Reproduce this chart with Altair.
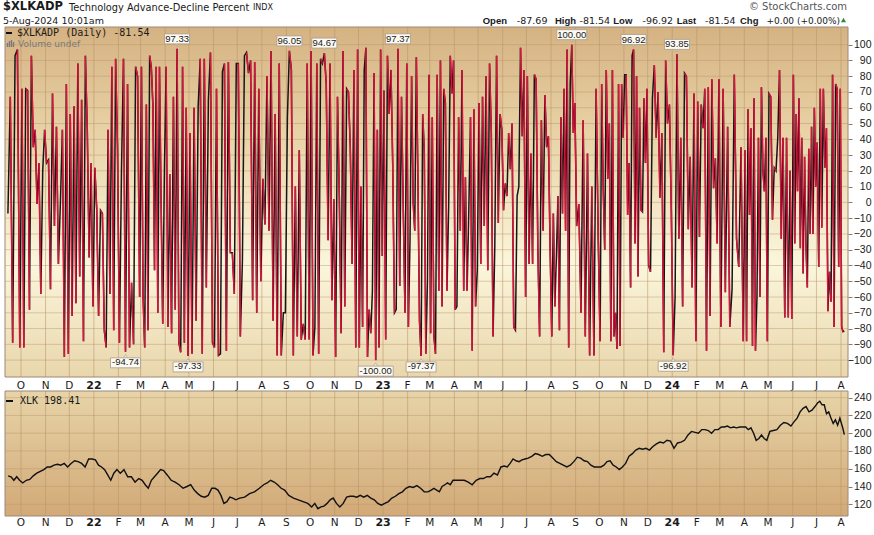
import altair as alt
import pandas as pd

# ---------------- data ----------------
# $XLKADP daily values, grouped by month (Sep 2021 .. Aug 2024)
ADP_2021 = [
    [-7, 67, -89, 93, 97, -92],
    [72, -92, 72, 71, -68, 93, 35, 46, -1, 25, -58, 20, 46],
    [25, 27, -55, 69, -15, 48, -39, 0, 46, -98, 75, -96],
    [56, -72, 61, -64, 88, -47, 65, -88, 93, 46, -35, 25, -66],
]
ADP_2022 = [
    [22, -4, -72, -5, -7, -81, -92, 46, -58, 86, -81, 91, 35],
    [-89, 20, 91, -94.74, 75, -92, -51, -90, 86, 80, -60],
    [86, -60, -92, 62, -81, 93, 86, 62, -43, 86, -70, 86, 0, -77, 18],
    [86, -79, 18, -83, 67, -68, 97.33, -89, -95, 86, -89, 60, -97.33],
    [44, -96, 60, -75, 61, 91, -96, 91, -54, 65, 95, -89],
    [-92, 72, -97, -96, 83, 88, -94, 89, -32, -32, -58, 88],
    [88, -85, -37, 93, 95, 82, 90, -62, 89, -70, 72, -50],
    [15, -14, 80, -18, 96, -75, 56, -97, 88, -97, -70, -70],
    [54, 96.05, 84, -97, 10, -85, 33, -87, -77, -87, 88, -87],
    [96, -97, -79, 88, -96, 91, 88, 94.67, 75, -24, 88, -62, 2],
    [-98, 67, 4, -83, 96, -66, 72, 70, 35, -39, 84, -92, 97],
    [-92, 10, -79, 84, 98, -98, -68, -83, -56, 82, -100.0, 46, -92, 97, -34],
]
ADP_2023 = [
    [71, -87, 93, 56, 84, 25, -70, -68, 97.37, -53, 67, -3, -70, 88],
    [-79, -24, 80, 0, -18, 92, 14, -75, -97.37, 56, 33, -96, -51, 81],
    [-83, 54, -85, -96, 81, -56, 90, -66, 72, 63, -56, -3, 93, 69, 90],
    [-68, -66, 54, -18, 84, -56, 16, -56, -5, 54, -94, 59, -66, -43],
    [63, -39, 67, -15, 80, -43, 88, 44, -85, -28, 93, -13, 56, 46],
    [-5, 12, 4, 44, 21, 50, -79, -81, 4, 10, 98, 42, 84, -60],
    [80, -39, 31, -39, 81, 78, -30, -85, 52, -18, 68, 35, 42, -30],
    [-85, -7, -66, -34, 4, -81, 54, -7, 72, -18, 97, -92, 75, 100.0, 44, 63],
    [-15, -1, -70, 52, -85, 31, -97, 10, -97, 72, -25],
    [-88, 75, 10, -30, 84, 15, 50, -88, 84, -85, -70, -93, 75, -91, 75, 41],
    [81, 81, -8, 25, -54, 93, 96.92, -26, 80, -47, 60, -5, -6, 66, 25, 72],
    [-40, -44, 66, 87, 41, 70, 3, 44, -95, 90, 50, 62, -5],
]
ADP_2024 = [
    [-96.92, -60, 93.85, -23, 41, -66, 82, 80, -17, 29, -54, 69, -88],
    [64, -22, 62, 47, 72, -94, 73, -72, 78, 9, 28, -26, 78],
    [-79, 72, -57, 48, -79, -55, 81, -23, -41, 35, -88],
    [33, -88, 59, -8, 47, -91, 66, -94, -60, 41, -60, 73, 20, 7, 41, -88],
    [69, 67, -11, 22, 20, 41, 84, -23, 41, -73, 41, -73, 20, -74],
    [81, -26, 56, 7, 66, -29, 41, -45, 29, -27, -54, 34, -20, 48, -20, 60, 10],
    [38, -41, 72, -16, 72, 22, 47, -69, -44, -63, 81, -79, 75, 72, -41, 72],
    [-79, -82, -81.54],
]

# XLK closes, grouped by month (Sep 2021 .. Aug 2024)
XLK_2021 = [
    [152, 151, 147, 151, 147],
    [144, 147, 148, 152, 155, 157, 159],
    [162, 162, 164, 165, 164, 166, 162],
    [166, 169, 168, 166, 162, 171, 171],
]
XLK_2022 = [
    [170, 164, 162, 159, 153, 147, 155, 159],
    [155, 159, 151, 151, 145, 149],
    [147, 142, 138, 147, 151, 155, 159, 158],
    [153, 147, 145, 142, 138, 140],
    [142, 136, 132, 129, 128, 130, 138],
    [138, 136, 130, 121, 123, 128, 127, 125],
    [127, 128, 132, 134, 138],
    [142, 144, 147, 145, 142, 138, 136],
    [130, 127, 125, 123, 121],
    [117, 121, 115, 117, 118, 121, 125, 127],
    [121, 117, 121, 128, 129, 129, 128],
    [130, 128, 130, 127, 125, 121, 119],
]
XLK_2023 = [
    [121, 123, 127, 129, 132, 134, 138],
    [140, 139, 141, 138, 134, 134],
    [136, 138, 136, 134, 140, 142, 144, 142, 147],
    [147, 147, 147, 145, 142, 147],
    [149, 149, 151, 151, 155, 153, 162],
    [163, 162, 166, 171, 169, 168, 170, 171],
    [172, 174, 177, 176, 174, 176, 176],
    [172, 168, 166, 164, 162, 164, 168],
    [173, 172, 169, 168, 164, 162, 162],
    [162, 164, 168, 169, 164, 162, 159, 162],
    [166, 174, 177, 181, 183, 182, 183],
    [181, 185, 188, 190, 189, 192, 191],
]
XLK_2024 = [
    [183, 189, 190, 192, 198, 202, 201],
    [200, 204, 204, 203, 200, 204, 204],
    [207, 207, 208, 206, 207, 206, 207, 207],
    [207, 204, 206, 200, 192, 194, 198, 194, 192],
    [202, 203, 204, 209, 212, 211, 208],
    [213, 217, 224, 228, 230, 224, 226, 230],
    [234, 236, 232, 232, 222, 224, 217, 211, 215, 209, 217],
    [210, 205, 198.41],
]

TOP_LABELS = [97.33, 96.05, 94.67, 97.37, 100.0, 96.92, 93.85]
BOTTOM_LABELS = [-94.74, -97.33, -100.0, -97.37, -96.92]
ADP_TICKS = list(range(-100, 101, 10))
XLK_TICKS = list(range(120, 241, 20))
MONTH_LETTERS = ["J", "F", "M", "A", "M", "J", "J", "A", "S", "O", "N", "D"]
HEADER = [("Open", True), ("-87.69", False), ("High", True), ("-81.54", False),
          ("Low", True), ("-96.92", False), ("Last", True), ("-81.54", False),
          ("Chg", True), ("+0.00 (+0.00%)", False)]
HEADER_X = [477.7, 511.8, 550, 574.5, 608.3, 637.5, 671.7, 700, 735, 761.5]

# ---------------- helpers ----------------
W, H1, H2 = 843, 350, 125
FIRST_DAY = pd.Timestamp("2021-09-13")
END_DAY = pd.Timestamp("2024-08-06")
FMT = "%Y-%m-%dT%H:%M:%S"


def build(blocks):
    rows = []
    for year, m0, months in blocks:
        for i, vals in enumerate(months):
            ms = pd.Timestamp(year=year, month=m0 + i, day=1)
            me = ms + pd.offsets.MonthBegin(1)
            s, e = max(ms, FIRST_DAY), min(me, END_DAY)
            n = len(vals)
            for k, v in enumerate(vals):
                d = (s + (e - s) * ((k + 0.5) / n)).round("min")
                rows.append({"date": d.strftime(FMT), "v": float(v)})
    return pd.DataFrame(rows)


adp = build([(2021, 9, ADP_2021), (2022, 1, ADP_2022), (2023, 1, ADP_2023), (2024, 1, ADP_2024)])
xlk = build([(2021, 9, XLK_2021), (2022, 1, XLK_2022), (2023, 1, XLK_2023), (2024, 1, XLK_2024)])

seg = adp.copy()
seg["date2"] = seg["date"].shift(-1)
seg["v2"] = seg["v"].shift(-1)
seg = seg.dropna()
down = seg[seg["v2"] < seg["v"]]

months = pd.date_range("2021-10-01", "2024-08-01", freq="MS")
mdf = pd.DataFrame({
    "date": [m.strftime(FMT) for m in months],
    "lab": [str(m.year % 100) if m.month == 1 else MONTH_LETTERS[m.month - 1] for m in months],
    "yr": [m.month == 1 for m in months],
})

xs = alt.Scale(domain=[alt.DateTime(year=2021, month=9, date=10, hours=19, minutes=30),
                       alt.DateTime(year=2024, month=8, date=9, hours=20)])

GRID = "#b89468"
FRAME = "#9e8878"
RED = "#e0103c"
BOXFILL = "#fcfaf2"
BOXSTROKE = "#a89a8c"
TXT = "#1a1a1a"
one = pd.DataFrame({"a": [0]})


def Xf(f="date"):
    return alt.X(f"{f}:T", scale=xs, axis=None)


def yaxis(vals):
    return alt.Axis(orient="right", values=vals, title=None, grid=False, domain=False,
                    tickSize=4, tickColor="#8c7b6b", labelAlign="right", labelPadding=19,
                    labelFont="Liberation Sans", labelFontSize=10.5, labelColor=TXT)


ys1 = alt.Scale(domain=[-110.7, 111.2], nice=False, zero=False)
ys2 = alt.Scale(domain=[106.8, 247.5], nice=False, zero=False)
ax1 = yaxis(ADP_TICKS)
ax2 = yaxis(XLK_TICKS)


def grad(stops):
    return alt.Gradient(gradient="linear", x1=0, x2=0, y1=0, y2=1,
                        stops=[alt.GradientStop(offset=o, color=c) for o, c in stops])


def panel_base(h, stops, ticks, ys, ax):
    bg = alt.Chart(one).mark_rect(fill=grad(stops)).encode(
        x=alt.value(0), x2=alt.value(W), y=alt.value(0), y2=alt.value(h))
    vgrid = alt.Chart(mdf).mark_rule(color=GRID, strokeWidth=1, opacity=0.55).encode(x=Xf())
    hgrid = alt.Chart(pd.DataFrame({"g": ticks})).mark_rule(color=GRID, strokeWidth=1, opacity=0.45).encode(
        x=alt.value(0), x2=alt.value(W), y=alt.Y("g:Q", scale=ys, axis=ax))
    return [bg, vgrid, hgrid]


def month_labels(ypix):
    reg = alt.Chart(mdf[~mdf["yr"]]).mark_text(font="DejaVu Sans", fontSize=10.5, color=TXT,
                                               baseline="middle").encode(
        x=Xf(), y=alt.value(ypix), text="lab:N")
    bold = alt.Chart(mdf[mdf["yr"]]).mark_text(font="DejaVu Sans", fontSize=11, fontWeight="bold",
                                              color=TXT, baseline="middle").encode(
        x=Xf(), y=alt.value(ypix), text="lab:N")
    return [reg, bold]


def frame(h):
    return alt.Chart(one).mark_rect(fillOpacity=0, stroke=FRAME, strokeWidth=1).encode(
        x=alt.value(0), x2=alt.value(W), y=alt.value(0), y2=alt.value(h))


def txt(s, x, y, size=10, weight="normal", color=TXT, font="DejaVu Sans", align="left"):
    return alt.Chart(one).mark_text(text=s, font=font, fontSize=size, fontWeight=weight, color=color,
                                    align=align, baseline="middle").encode(x=alt.value(x), y=alt.value(y))


# ---------------- top panel ----------------
top_layers = panel_base(H1, [(0, "#d5b282"), (0.3, "#e8d2a6"), (0.68, "#fbf6dc"), (1, "#e9d6ac")],
                        ADP_TICKS, ys1, ax1)
top_layers.append(alt.Chart(adp).mark_line(color="#161616", strokeWidth=1.5).encode(
    x=Xf(), y=alt.Y("v:Q", scale=ys1, axis=ax1)))
top_layers.append(alt.Chart(down).mark_rule(color=RED, strokeWidth=1.5).encode(
    x=Xf(), x2="date2:T", y=alt.Y("v:Q", scale=ys1, axis=ax1), y2="v2:Q"))

# value boxes
for labels, sign in [(TOP_LABELS, -1), (BOTTOM_LABELS, 1)]:
    lab = adp[adp["v"].isin(labels)].copy()
    lab["t"] = lab["v"].map(lambda v: f"{v:.2f}")
    top_layers.append(alt.Chart(lab).mark_point(
        shape="triangle-down" if sign < 0 else "triangle-up", filled=True, size=18,
        fill=BOXFILL, stroke=BOXSTROKE, strokeWidth=0.8, yOffset=sign * 4.5).encode(
        x=Xf(), y=alt.Y("v:Q", scale=ys1, axis=ax1)))
    for L, g in lab.groupby(lab["t"].str.len()):
        w = 5 * L
        y0, y1 = (-15, -5) if sign < 0 else (6, 16)
        top_layers.append(alt.Chart(g).mark_rect(
            fill=BOXFILL, stroke=BOXSTROKE, strokeWidth=0.8,
            xOffset=-w / 2, x2Offset=w / 2, yOffset=y0, y2Offset=y1).encode(
            x=Xf(), x2="date:T", y=alt.Y("v:Q", scale=ys1, axis=ax1), y2="v:Q"))
    top_layers.append(alt.Chart(lab).mark_text(
        font="Liberation Sans", fontSize=9.5, color=TXT, baseline="middle",
        dy=sign * 10 + (0.5 if sign > 0 else 0)).encode(
        x=Xf(), y=alt.Y("v:Q", scale=ys1, axis=ax1), text="t:N"))

top_layers.append(frame(H1))
top_layers += month_labels(H1 + 9)

# legend inside top panel
top_layers.append(alt.Chart(one).mark_rule(color="#111", strokeWidth=2).encode(
    x=alt.value(1), x2=alt.value(7), y=alt.value(6)))
top_layers.append(txt("$XLKADP (Daily) -81.54", 12, 6, 10, font="DejaVu Sans Mono"))
for bx, bh in [(2.5, 4), (4.5, 6), (6.5, 7), (8.5, 5)]:
    top_layers.append(alt.Chart(one).mark_rule(color="#7a7a7a", strokeWidth=1.4).encode(
        x=alt.value(bx), y=alt.value(20), y2=alt.value(20 - bh)))
top_layers.append(txt("Volume undef", 13, 17, 9, color="#7a7a7a"))

# header texts (above the panel)
top_layers.append(txt("$XLKADP", -2, -20, 11.5, "bold"))
top_layers.append(txt("Technology Advance-Decline Percent", 64, -19.5, 9.8))
top_layers.append(txt("INDX", 248, -19.5, 8))
top_layers.append(txt("5-Aug-2024 10:01am", -2, -6.5, 9.5))
top_layers.append(txt("\u00a9 StockCharts.com", 842, -20, 10, color="#555555", align="right"))
for (s, bold), x in zip(HEADER, HEADER_X):
    if bold:
        top_layers.append(txt(s, x, -6.5, 9.5, "bold", font="Liberation Sans"))
    else:
        top_layers.append(txt(s, x, -6.5, 9 if "(" in s else 9.5))
top_layers.append(alt.Chart(one).mark_point(shape="triangle-up", filled=True, size=26,
                                            color="#2e8b2e", opacity=1).encode(
    x=alt.value(838.5), y=alt.value(-7)))
# anchor for the canvas' top-left corner
top_layers.append(alt.Chart(one).mark_rect(opacity=0).encode(
    x=alt.value(-5), x2=alt.value(0), y=alt.value(-27), y2=alt.value(0)))

top = alt.layer(*top_layers).properties(width=W, height=H1)

# ---------------- bottom panel ----------------
bot_layers = panel_base(H2, [(0, "#e7d4a8"), (1, "#d2a977")], XLK_TICKS, ys2, ax2)
bot_layers.append(alt.Chart(xlk).mark_line(color="#111111", strokeWidth=1.4).encode(
    x=Xf(), y=alt.Y("v:Q", scale=ys2, axis=ax2)))
bot_layers.append(frame(H2))
bot_layers += month_labels(H2 + 7)
bot_layers.append(alt.Chart(one).mark_rule(color="#111", strokeWidth=2).encode(
    x=alt.value(1), x2=alt.value(8), y=alt.value(10)))
bot_layers.append(txt("XLK 198.41", 15, 10, 10, font="DejaVu Sans Mono"))
# anchor for the canvas' bottom-right corner
bot_layers.append(alt.Chart(one).mark_rect(opacity=0).encode(
    x=alt.value(W), x2=alt.value(869), y=alt.value(H2), y2=alt.value(144)))

bottom = alt.layer(*bot_layers).properties(width=W, height=H2)

chart = alt.vconcat(top, bottom, spacing=14, bounds="flush").properties(
    padding=0, background="white").configure_view(strokeWidth=0)

chart.save("out.html", embed_options={"renderer": "svg", "actions": False})
